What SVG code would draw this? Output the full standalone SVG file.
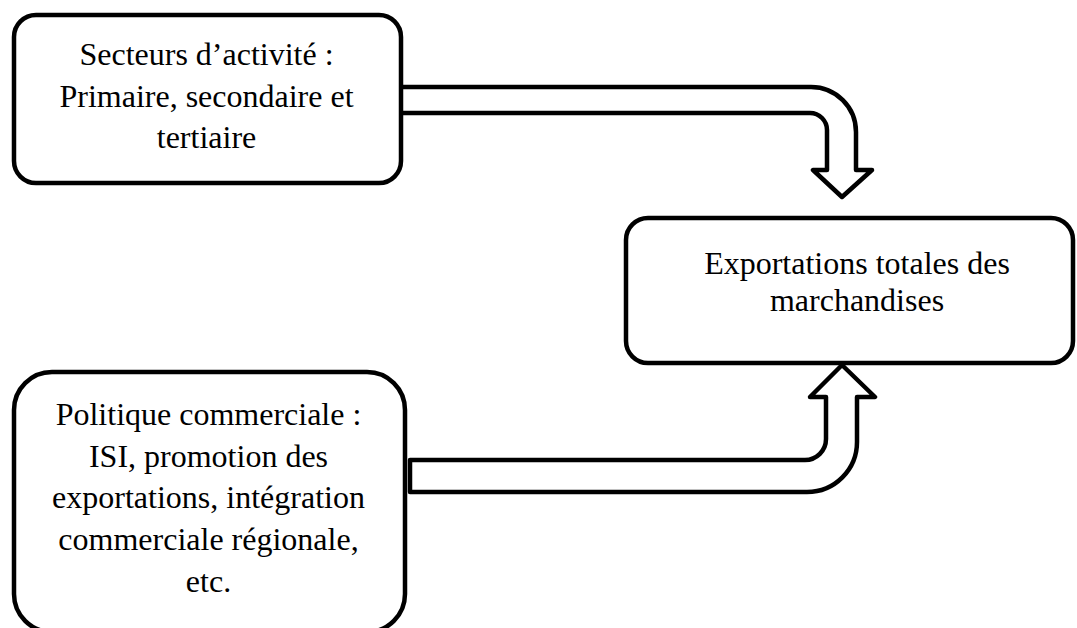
<svg xmlns="http://www.w3.org/2000/svg" width="1077" height="628" viewBox="0 0 1077 628">
<style>
.box{fill:#fff;stroke:#000;stroke-width:4.5}
.arr{fill:#fff;stroke:#000;stroke-width:4.5;stroke-linejoin:round}
.t{font-family:"Liberation Serif","Times New Roman",serif;font-size:32px;fill:#000;text-anchor:middle}
</style>
<rect width="1077" height="628" fill="#fff"/>
<g id="connectors">
<path class="arr" d="M 400 87 H 811 A 45 45 0 0 1 856 132 V 170 H 872 L 842 197 L 813 170 H 827 V 130 A 17 17 0 0 0 810 113 H 400 Z"/>
<path class="arr" d="M 410 460 H 805 A 21 21 0 0 0 826 439 V 397 H 810 L 842 365 L 875 397 H 857 V 442 A 50 50 0 0 1 807 492 H 410 Z"/>
</g>
<g id="node-secteurs">
<rect class="box" x="14" y="15" width="387" height="168" rx="22" ry="22"/>
<text class="t" x="206.5" y="65">Secteurs d’activité :</text>
<text class="t" x="206.5" y="107">Primaire, secondaire et</text>
<text class="t" x="206.5" y="148">tertiaire</text>
</g>
<g id="node-exportations">
<rect class="box" x="626" y="218" width="447" height="145" rx="22" ry="22"/>
<text class="t" x="857" y="274">Exportations totales des</text>
<text class="t" x="857" y="311">marchandises</text>
</g>
<g id="node-politique">
<rect class="box" x="14" y="372" width="391" height="260" rx="38" ry="38"/>
<text class="t" x="208.5" y="425">Politique commerciale :</text>
<text class="t" x="208.5" y="467">ISI, promotion des</text>
<text class="t" x="208.5" y="508">exportations, intégration</text>
<text class="t" x="208.5" y="550">commerciale régionale,</text>
<text class="t" x="208.5" y="592">etc.</text>
</g>
</svg>
